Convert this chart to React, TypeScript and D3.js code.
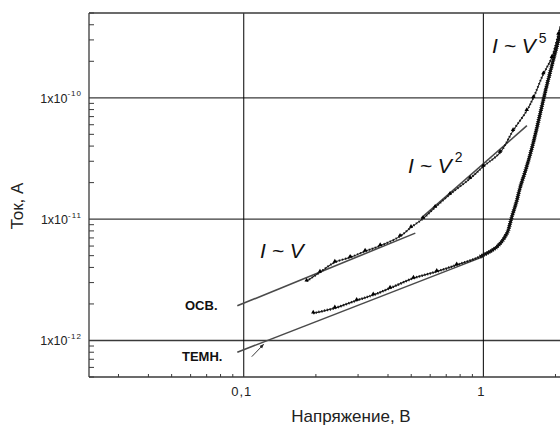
import React from "react";
import * as d3 from "d3";

// Illuminated sample ("осв."): voltage, V and current, A
const osvVoltage = [0.183, 0.208, 0.24, 0.278, 0.321, 0.371, 0.449, 0.499, 0.56, 0.629, 0.726, 0.88, 1.0, 1.174, 1.33, 1.517, 1.617, 1.78, 1.93, 2.056, 2.21];
const osvCurrent = [3.08e-12, 3.65e-12, 4.41e-12, 4.84e-12, 5.43e-12, 6.03e-12, 7.21e-12, 8.55e-12, 1.01e-11, 1.25e-11, 1.6e-11, 2.16e-11, 2.72e-11, 3.54e-11, 5.35e-11, 7.82e-11, 1.0e-10, 1.57e-10, 2.14e-10, 3.33e-10, 5.7e-10];

// Dark sample ("темн.")
const darkVoltage = [0.195, 0.24, 0.296, 0.347, 0.408, 0.511, 0.639, 0.774, 0.969, 1.137, 1.252, 1.314, 1.379, 1.423, 1.508, 1.612, 1.839, 2.09, 2.235];
const darkCurrent = [1.68e-12, 1.85e-12, 2.14e-12, 2.37e-12, 2.7e-12, 3.26e-12, 3.7e-12, 4.19e-12, 4.91e-12, 5.89e-12, 7.59e-12, 1.04e-11, 1.42e-11, 1.82e-11, 2.61e-11, 4.19e-11, 1.26e-10, 3.36e-10, 5.7e-10];

// First low-voltage points of the dark curve
const darkStartVoltage = [0.108, 0.121];
const darkStartCurrent = [7.35e-13, 9.28e-13];

// Power-law fit lines
const fitOsvLinearV = [0.094, 0.52];
const fitOsvLinearI = [1.93e-12, 7.67e-12];
const fitOsvSquareV = [0.55, 1.52];
const fitOsvSquareI = [1.02e-11, 5.89e-11];
const fitDarkV = [0.094, 1.0];
const fitDarkI = [8.0e-13, 4.91e-12];

// Axis ticks
const xMajorTicks = [0.1, 1];
const xMajorLabels = ["0,1", "1"];
const yMajorTicks = [1e-12, 1e-11, 1e-10];
const yMajorExponents = ["-12", "-11", "-10"];

const xDomain = [0.0226, 3];
const yDomain = [5e-13, 5e-10];

const W = 560;
const H = 426;
const plotLeft = 89;
const plotTop = 13;
const plotBottom = 377;
const decadeX = 239.6;

const FONT = "Arial, 'Liberation Sans', sans-serif";

export default function App() {
  const plotRight = plotLeft + decadeX * Math.log10(xDomain[1] / xDomain[0]);
  const x = d3.scaleLog().domain(xDomain).range([plotLeft, plotRight]);
  const y = d3.scaleLog().domain(yDomain).range([plotBottom, plotTop]);

  const isDecade = (v: number) => Math.abs(Math.log10(v) - Math.round(Math.log10(v))) < 1e-6;
  const xMinor = x.ticks().filter((t) => !isDecade(t));
  const yMinor = y.ticks().filter((t) => !isDecade(t));

  const toPts = (vs: number[], is: number[]) => vs.map((v, i) => [v, is[i]] as [number, number]);
  const line = d3
    .line<[number, number]>()
    .x((d) => x(d[0]))
    .y((d) => y(d[1]))
    .curve(d3.curveCatmullRom.alpha(0.5));
  const straight = d3
    .line<[number, number]>()
    .x((d) => x(d[0]))
    .y((d) => y(d[1]));

  const osv = toPts(osvVoltage, osvCurrent);
  const dark = toPts(darkVoltage, darkCurrent);
  const darkSteep = dark.filter((d) => d[0] >= 0.96);
  const darkLow = dark.filter((d) => d[0] < 0.96);
  const darkStart = toPts(darkStartVoltage, darkStartCurrent);

  const fits = [
    toPts(fitOsvLinearV, fitOsvLinearI),
    toPts(fitOsvSquareV, fitOsvSquareI),
    toPts(fitDarkV, fitDarkI),
  ];

  const frame = "#3a3a3a";
  const tri = d3.symbol(d3.symbolTriangle, 8)() ?? "";

  return (
    <svg
      width={W}
      height={H}
      style={{ position: "absolute", left: 0, top: 0, background: "#fff" }}
      fontFamily={FONT}
    >
      <defs>
        <clipPath id="plot-area">
          <rect x={plotLeft} y={plotTop} width={plotRight - plotLeft} height={plotBottom - plotTop} />
        </clipPath>
        <marker id="arrow-head" viewBox="0 0 10 10" refX="9" refY="5" markerWidth="5" markerHeight="5" orient="auto">
          <path d="M0,1 L10,5 L0,9 z" fill="#222" />
        </marker>
      </defs>

      {/* horizontal decade grid */}
      {yMajorTicks.map((t) => (
        <line key={"gy" + t} x1={plotLeft} x2={plotRight} y1={y(t)} y2={y(t)} stroke={frame} strokeWidth={1.3} />
      ))}
      {/* vertical decade grid */}
      {xMajorTicks.map((t) => (
        <line key={"gx" + t} x1={x(t)} x2={x(t)} y1={plotTop} y2={plotBottom} stroke="#000" strokeWidth={1} />
      ))}

      {/* frame */}
      <line x1={plotLeft} x2={plotRight} y1={plotTop} y2={plotTop} stroke={frame} strokeWidth={1.3} />
      <line x1={plotLeft} x2={plotRight} y1={plotBottom} y2={plotBottom} stroke={frame} strokeWidth={1.3} />
      <line x1={plotLeft} x2={plotLeft} y1={plotTop} y2={plotBottom} stroke={frame} strokeWidth={1.3} />

      {/* minor ticks */}
      {yMinor.map((t) => (
        <line key={"my" + t} x1={plotLeft} x2={plotLeft + 5} y1={y(t)} y2={y(t)} stroke={frame} strokeWidth={1} />
      ))}
      {xMinor.map((t) => (
        <line key={"mx" + t} x1={x(t)} x2={x(t)} y1={plotBottom} y2={plotBottom - 3} stroke={frame} strokeWidth={1} />
      ))}

      {/* tick labels */}
      {yMajorTicks.map((t, i) => (
        <text key={"ly" + t} x={82} y={y(t) + 5} textAnchor="end" fontSize={12.5} fill="#222">
          1x10
          <tspan fontSize={8} dy={-6.5} letterSpacing={1}>
            {yMajorExponents[i]}
          </tspan>
        </text>
      ))}
      {xMajorTicks.map((t, i) => (
        <text key={"lx" + t} x={x(t) - 2} y={396} textAnchor="middle" fontSize={13} fill="#222" letterSpacing={1}>
          {xMajorLabels[i]}
        </text>
      ))}

      {/* axis titles */}
      <text x={351} y={422} textAnchor="middle" fontSize={17} fill="#222">
        Напряжение, В
      </text>
      <text transform="translate(23,206) rotate(-90)" textAnchor="middle" fontSize={17} fill="#222">
        Ток, А
      </text>

      <g clipPath="url(#plot-area)">
        {/* fits */}
        {fits.map((f, i) => (
          <path key={"fit" + i} d={straight(f) ?? ""} fill="none" stroke="#4a4a4a" strokeWidth={1.6} />
        ))}

        {/* measured curves */}
        <path d={line(osv) ?? ""} fill="none" stroke="#222" strokeWidth={1.1} />
        <path d={line(osv) ?? ""} fill="none" stroke="#111" strokeWidth={2.2} strokeDasharray="1 2.2" />
        <path d={line(dark) ?? ""} fill="none" stroke="#222" strokeWidth={1.3} />
        <path d={line(dark) ?? ""} fill="none" stroke="#111" strokeWidth={2.6} strokeDasharray="1 1.8" />
        <path d={line(darkSteep) ?? ""} fill="none" stroke="#1a1a1a" strokeWidth={2.6} />
        <path d={line(darkSteep) ?? ""} fill="none" stroke="#000" strokeWidth={4.2} strokeDasharray="0.7 1.3" />
        {osv.map((d, i) => (
          <path key={"po" + i} d={tri} transform={`translate(${x(d[0])},${y(d[1]) - 1})`} fill="#000" />
        ))}
        {darkLow.map((d, i) => (
          <path key={"pd" + i} d={tri} transform={`translate(${x(d[0])},${y(d[1]) - 1})`} fill="#000" />
        ))}
        <path d={straight(darkStart) ?? ""} fill="none" stroke="#222" strokeWidth={0.9} markerEnd="url(#arrow-head)" />
      </g>

      {/* power-law annotations */}
      <text x={260} y={258} fontSize={21} fontStyle="italic" fill="#111">
        I ~ V
      </text>
      <text x={408} y={173} fontSize={21} fontStyle="italic" fill="#111">
        I ~ V
        <tspan fontSize={14} fontStyle="normal" dx={3} dy={-11}>
          2
        </tspan>
      </text>
      <text x={492} y={53} fontSize={21} fontStyle="italic" fill="#111">
        I ~ V
        <tspan fontSize={14} fontStyle="normal" dx={3} dy={-10}>
          5
        </tspan>
      </text>

      {/* curve names */}
      <text x={185} y={310} fontSize={13} fontWeight="bold" fill="#111">
        ОСВ.
      </text>
      <text x={182} y={361} fontSize={13} fontWeight="bold" fill="#111">
        ТЕМН.
      </text>
    </svg>
  );
}
